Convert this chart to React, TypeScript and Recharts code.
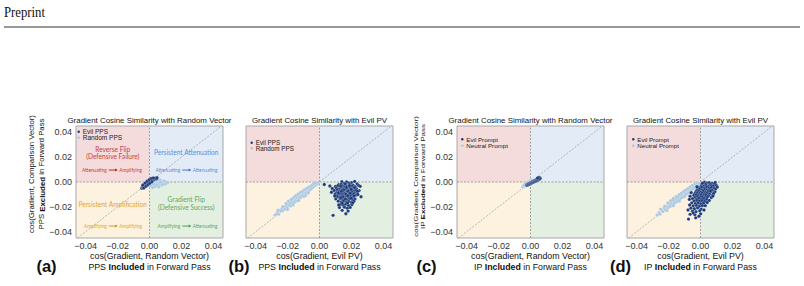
import React from 'react';
import { ScatterChart, Scatter, XAxis, YAxis, ReferenceArea, ReferenceLine, ReferenceDot } from 'recharts';

type Pt = [number, number];

// cosine values, in units of 1e-3
const A_EVIL: Pt[] = [
  [-4.8, -5.0], [-4.5, -3.9], [-4.2, -4.6], [-4.0, -3.2], [-3.8, -4.1], [-3.6, -2.8], [-3.4, -3.6],
  [-3.2, -2.4], [-3.0, -3.1], [-2.8, -1.9], [-2.6, -2.7], [-2.4, -1.5], [-2.2, -2.2], [-2.0, -1.0],
  [-1.8, -1.8], [-1.6, -0.6], [-1.4, -1.3], [-1.2, -0.2], [-1.0, -0.9], [-0.8, 0.3], [-0.6, -0.4],
  [-0.4, 0.7], [-0.2, 0.1], [0.1, 1.1], [0.3, 0.5], [0.6, 1.5], [0.9, 0.9], [1.2, 1.9], [1.5, 1.3],
  [1.9, 2.3], [2.3, 1.7], [2.7, 2.7], [3.2, 2.2], [3.7, 3.1], [4.3, 2.6], [4.7, 3.4],
  [-3.5, -4.8], [-2.2, -3.5], [-1.0, -2.2], [0.2, -1.0], [1.5, 0.2], [-4.2, -2.4], [-2.8, -0.9],
  [-1.5, 0.6], [-0.2, 1.8], [1.1, 2.8], [2.4, 3.3],
];
const A_RANDOM: Pt[] = [
  [-0.8, 0.5], [0.2, -1.5], [0.6, 1.2], [1.0, -0.3], [1.4, -2.8], [1.8, 0.8], [2.2, -1.2], [2.5, 1.8],
  [2.9, -0.5], [3.2, -2.2], [3.6, 0.4], [4.0, -1.6], [4.3, 1.4], [4.7, -0.2], [5.0, -3.2], [5.3, -1.0],
  [5.6, 0.9], [6.0, -2.0], [6.3, 0.2], [6.7, -1.3], [7.0, 1.2], [7.4, -0.6], [7.7, -2.6], [8.1, 0.3],
  [8.5, -1.1], [8.9, 0.9], [9.3, -0.4], [9.8, -1.7], [10.3, 0.2], [10.8, -0.8], [3.4, -3.8], [2.0, -4.5],
  [5.8, -4.0], [4.5, 2.3], [1.2, 2.4], [6.5, 2.0], [11.5, -0.2], [0.5, -3.2],
  [3.0, 0.8], [4.6, -2.4], [6.8, -0.2], [8.3, -1.9], [5.2, 1.6], [2.6, -1.9], [9.6, 0.6],
];
const B_EVIL: Pt[] = [
  [14, 0.3], [17, 0], [20, -0.5], [22, 0.5], [18.5, -1], [15.5, -1.2],
  [3, -2], [12, -2.2], [13.5, -1.8], [16, -2.4], [19, -2], [21, -2.5], [23.5, -1.5], [24.5, -2.8],
  [6.5, -3.2], [10, -3.6], [11.5, -3], [14.5, -3.4], [15.8, -3.8], [17.2, -3.1], [18.3, -3.9], [20.2, -3.3], [22.3, -3.7], [25.5, -3.5],
  [8, -5.2], [10.5, -4.8], [12.5, -5.3], [13.8, -4.6], [15, -5.5], [16.4, -4.9], [17.6, -5.6], [19, -4.7], [20.6, -5.4], [21.8, -4.9], [23.2, -5.6],
  [9.2, -6.8], [11.2, -6.3], [12.8, -7], [14.2, -6.4], [15.5, -7.1], [16.9, -6.2], [18.2, -6.9], [19.6, -6.4], [21, -7.2], [22.6, -6.6], [24.8, -6.9],
  [7.5, -8.2], [10.8, -8.5], [12.2, -7.9], [13.5, -8.6], [14.8, -8], [16.2, -8.7], [17.5, -7.8], [18.9, -8.5], [20.3, -8.1], [21.7, -8.8], [23.5, -8.3],
  [9.8, -9.7], [11.6, -10], [13, -9.4], [14.4, -10.1], [15.8, -9.5], [17.1, -10.2], [18.5, -9.6], [19.9, -10.3], [21.3, -9.8], [22.9, -10.5],
  [11, -11.6], [12.6, -12], [14, -11.3], [15.3, -12.2], [16.6, -11.5], [18, -12.1], [19.4, -11.4], [20.8, -12.3], [26, -11.8],
  [10.2, -13.6], [12.9, -13.3], [14.6, -14], [15.9, -13.4], [17.3, -14.2], [18.8, -13.5], [20.5, -14.1], [22.2, -13.6],
  [11.8, -15.4], [13.7, -16], [15.1, -15.3], [16.8, -16.2], [18.3, -15.6], [19.9, -16.4], [21.5, -15.5],
  [13.2, -18], [14.9, -18.6], [16.4, -17.8], [18.1, -18.8], [20.2, -18.2],
  [12.5, -20.5], [15.6, -20.2], [17.4, -21], [19.2, -20.4],
  [14.2, -22.8], [17.9, -23.4], [8.5, -26.8], [16.5, -25.5],
  [13.2, -3.2], [16.8, -4.4], [19.8, -6], [15.2, -6.2], [17.8, -7.4], [13.8, -7.4], [16.6, -9.8], [19.2, -9],
  [14.7, -11.8], [17.7, -11], [21.6, -11.2], [13.4, -12.6], [16.2, -13.8], [19.6, -13], [17.5, -16.8], [14.2, -17],
  [22, -4.2], [11.8, -8.8], [20.8, -16.8], [23.8, -7.5], [24, -10], [9.5, -11.2], [12, -18.5], [16, -1.5], [18.8, -2.9],
];
const B_RANDOM: Pt[] = [
  [-28, -26.5], [-27, -25.8], [-26.3, -24], [-25.5, -25.9], [-25, -22.8], [-24.2, -23.5], [-23.6, -21.5],
  [-22.8, -22.9], [-22.1, -20.2], [-21.5, -21.6], [-20.8, -19], [-20.2, -20.5], [-19.6, -17.6], [-19, -18.8],
  [-18.5, -16.9], [-18, -19.2], [-17.4, -15.8], [-16.9, -17.1], [-16.3, -14.6], [-15.8, -16.4], [-15.3, -13.5],
  [-14.8, -14.9], [-14.3, -12.6], [-13.8, -15.2], [-13.3, -11.9], [-12.8, -13.4], [-12.3, -10.8], [-11.9, -12.6],
  [-11.4, -9.7], [-11, -11.3], [-10.5, -9], [-10.1, -10.6], [-9.6, -8.1], [-9.2, -9.8], [-8.8, -7.2], [-8.4, -8.9],
  [-8, -6.5], [-7.6, -8.1], [-7.2, -5.6], [-6.8, -7.3], [-6.4, -5], [-6, -6.4], [-5.6, -4.2], [-5.2, -5.5],
  [-4.8, -3.5], [-4.4, -4.6], [-4, -2.9], [-3.6, -3.8], [-3.2, -2.2], [-2.8, -3], [-2.4, -1.6], [-2, -2.2],
  [-1.6, -1], [-1.2, -1.5], [-0.8, -0.5], [-15.5, -11.8], [-12.5, -9.5], [-17, -13.8], [-10, -7.2], [-8.6, -11],
  [-26, -22.5], [-23, -19.8], [-21, -17.2], [-19.5, -15.3], [-17.8, -14], [-16, -12.2], [-14.8, -11],
  [-13.5, -9.8], [-12, -8.3], [-10.8, -7.6], [-9.4, -6.2], [-7.9, -5], [-6.6, -3.8], [-5, -2.6], [-3.8, -1.3],
  [-2.6, -0.4], [-20, -22], [-16.5, -18.5], [-13, -14.8], [-9.8, -11.6], [-7, -8.8],
];
const C_EVIL: Pt[] = [
  [-2.3, -2.6], [-2, -2], [-1.7, -2.4], [-1.4, -1.5], [-1.1, -2], [-0.8, -1.1], [-0.5, -1.6], [-0.2, -0.7],
  [0.1, -1.2], [0.4, -0.3], [0.7, -0.9], [1, 0.1], [1.3, -0.5], [1.6, 0.5], [1.9, -0.1], [2.2, 0.8],
  [2.5, 0.3], [2.8, 1.2], [3.1, 0.6], [3.4, 1.6], [3.7, 1], [4, 2], [4.3, 1.4], [4.6, 2.5], [4.9, 1.9],
  [5.2, 2.9], [5.5, 2.3], [5.8, 3.4], [6, 2.8], [5, 3.6], [4.4, 3.1],
];
const C_NEUTRAL: Pt[] = [
  [-5, -3.8], [-4.6, -3.2], [-4.2, -3.9], [-3.8, -2.6], [-3.4, -3.3], [-3, -2], [-2.6, -2.7], [-2.2, -1.4],
  [-1.8, -2.1], [-1.4, -0.8], [-1, -1.5], [-0.6, -0.3], [-0.2, -0.9], [0.2, 0.3], [0.6, -0.3], [1, 0.8],
  [1.4, 0.4], [1.8, 1.4], [-2, -0.9], [-1.2, 0.1], [0.4, 1.2], [-3.6, -1.6],
  [-4, -2], [-2.8, -1], [-1.6, 0.2], [-0.4, 0.9], [0.8, 1.8],
];
const D_EVIL: Pt[] = [
  [2.5, -0.2], [4, -0.8], [5.5, -0.5], [7.2, -1.2], [3.2, -1.8], [8.5, -1.6], [6, -2],
  [0.5, -3], [2, -3.3], [3.6, -2.8], [5, -3.5], [6.7, -3], [8, -3.4], [9.8, -2.6],
  [-1, -4.6], [0.8, -4.3], [2.4, -4.9], [3.9, -4.2], [5.3, -4.8], [6.8, -4.4], [8.6, -5],
  [-2, -6.2], [-0.4, -5.8], [1.2, -6.4], [2.7, -5.9], [4.2, -6.5], [5.7, -6], [7.3, -6.6],
  [-2.8, -7.6], [-1.2, -7.3], [0.3, -7.9], [1.8, -7.4], [3.3, -8], [4.8, -7.5], [6.3, -8.1], [9, -7.8],
  [-3.5, -9.2], [-2, -8.8], [-0.5, -9.4], [1, -8.9], [2.5, -9.5], [4, -9], [5.6, -9.6],
  [-4.2, -10.6], [-2.6, -10.3], [-1.1, -10.9], [0.4, -10.4], [1.9, -11], [3.4, -10.5], [5, -11.1], [7.5, -10.8],
  [-3.4, -12.3], [-1.8, -11.8], [-0.3, -12.4], [1.2, -11.9], [2.8, -12.5], [4.3, -12],
  [-5, -13.4], [-2.5, -13.8], [-1, -13.3], [0.6, -13.9], [2.1, -13.4], [3.8, -14],
  [-4, -15.2], [-2.3, -14.8], [-0.7, -15.4], [1, -15], [2.6, -15.6],
  [-5.5, -16.8], [-3.2, -17.3], [-1.5, -16.9], [0.2, -17.5], [1.9, -17],
  [-4.6, -19.2], [-2.6, -18.8], [-0.8, -19.5], [1.2, -19],
  [-6, -21], [-3.8, -21.5], [-1.8, -20.8], [0.4, -21.8],
  [-5, -23.5], [-2.8, -23.9], [-0.5, -23.2], [-6.5, -26], [-3.5, -26.4], [0.1, -25.6], [-7.5, -29.8], [-3, -28.8],
  [-6.5, -11.5], [-7, -14], [-6.8, -18.5], [9.5, -5.5], [10.5, -4], [8.2, -9.2], [6.8, -12.5], [5.5, -14.8],
  [4.2, -16.5], [3, -19], [-7.8, -22.5], [-1, -27.5], [6.2, -7.2], [-5.8, -8.5], [2.2, -22.5], [-4.5, -25],
  [9.2, -0.4], [1.2, -1], [-2.2, -3.8], [7.8, -11.3],
];
const D_NEUTRAL: Pt[] = [
  [-27.2, -26.6], [-26, -24.5], [-25.3, -25.9], [-24.4, -22.6], [-23.5, -23.8], [-22.7, -21], [-21.9, -22.4],
  [-21.2, -19.5], [-20.4, -20.9], [-19.7, -18.1], [-19, -19.7], [-18.3, -16.8], [-17.6, -18.2], [-16.9, -15.6],
  [-16.3, -17], [-15.6, -14.2], [-15, -15.9], [-14.4, -13.1], [-13.8, -14.6], [-13.2, -12], [-12.6, -13.5],
  [-12, -10.8], [-11.4, -12.4], [-10.8, -9.7], [-10.2, -11.2], [-9.6, -8.6], [-9, -10.1], [-8.5, -7.5],
  [-7.9, -9], [-7.4, -6.6], [-6.8, -7.9], [-6.3, -5.5], [-5.7, -6.8], [-5.2, -4.6], [-4.6, -5.7], [-4.1, -3.5],
  [-3.6, -4.6], [-3.1, -2.6], [-2.6, -3.4], [-2.1, -1.6], [-1.6, -2.3], [-1.1, -0.8], [-0.6, -1.2],
  [-14, -11.8], [-11, -8.6], [-17.5, -14.6], [-8, -6], [-20, -17.2], [-6, -4.2],
  [-25, -21.8], [-22.5, -19.4], [-20.5, -16.8], [-18.8, -15], [-17, -13.2], [-15.3, -11.7], [-13.5, -10.2],
  [-12, -9], [-10.5, -7.6], [-9.2, -6.4], [-7.7, -5.1], [-6.4, -3.9], [-5, -2.7], [-3.6, -1.5], [-2.3, -0.6],
  [-21, -23], [-17, -19], [-13.2, -15.4], [-9.9, -11.8], [-6.8, -8.6],
];

const TICKS = [-0.04, -0.02, 0, 0.02, 0.04];
const TICK_LABELS = ['\u22120.04', '\u22120.02', '0.00', '0.02', '0.04'];
const fmtTick = (v: number) => TICK_LABELS[TICKS.indexOf(v)] ?? '';

const X_DOMAIN: [number, number] = [-0.046, 0.046];
const Y_DOMAIN: [number, number] = [-0.045, 0.045];

const NAVY = '#1c3a7a';
const LIGHT = '#a9c6df';
const Q_PINK = '#f4dcdc';
const Q_BLUE = '#e3ebf6';
const Q_ORANGE = '#fdf1df';
const Q_GREEN = '#e2efe1';

// quadrant notes of panel (a), placed in data coordinates
const NOTES = [
  { x: -0.023, y: 0.0268, lines: ['Reverse Flip', '(Defensive Failure)'], ay: 0.0096, from: 'Attenuating', to: 'Amplifying', color: '#c84040', arrow: '#a31c1c' },
  { x: 0.023, y: 0.0244, lines: ['Persistent Attenuation'], ay: 0.0096, from: 'Attenuating', to: 'Attenuating', color: '#5b8fd8', arrow: '#2d6ad0' },
  { x: -0.023, y: -0.0174, lines: ['Persistent Amplification'], ay: -0.0354, from: 'Amplifying', to: 'Amplifying', color: '#e0a634', arrow: '#cc9210' },
  { x: 0.023, y: -0.0139, lines: ['Gradient Flip', '(Defensive Success)'], ay: -0.0354, from: 'Amplifying', to: 'Attenuating', color: '#62a962', arrow: '#3c983c' },
];

const PANELS = [
  { id: 'a', left: 76, title: 'Gradient Cosine Similarity with Random Vector', xLabel: 'cos(Gradient, Random Vector)', who: 'PPS', names: ['Evil PPS', 'Random PPS'], evil: A_EVIL, other: A_RANDOM, showY: true, notes: true, lx: 78.7, ly: 131.7, lgap: 6, lfs: 6.5, letterX: 46.5 },
  { id: 'b', left: 246, title: 'Gradient Cosine Similarity with Evil PV', xLabel: 'cos(Gradient, Evil PV)', who: 'PPS', names: ['Evil PPS', 'Random PPS'], evil: B_EVIL, other: B_RANDOM, showY: false, notes: false, lx: 251.7, ly: 142.7, lgap: 5.6, lfs: 6.3, letterX: 239 },
  { id: 'c', left: 457, title: 'Gradient Cosine Similarity with Random Vector', xLabel: 'cos(Gradient, Random Vector)', who: 'IP', names: ['Evil Prompt', 'Neutral Prompt'], evil: C_EVIL, other: C_NEUTRAL, showY: true, notes: false, lx: 462.3, ly: 139.3, lgap: 6.4, lfs: 6.2, letterX: 426.5 },
  { id: 'd', left: 627, title: 'Gradient Cosine Similarity with Evil PV', xLabel: 'cos(Gradient, Evil PV)', who: 'IP', names: ['Evil Prompt', 'Neutral Prompt'], evil: D_EVIL, other: D_NEUTRAL, showY: false, notes: false, lx: 633.3, ly: 139.3, lgap: 6.4, lfs: 6.2, letterX: 620.5 },
];

const toPts = (arr: Pt[]) => arr.map(([x, y]) => ({ x: x / 1000, y: y / 1000 }));

const PLOT_TOP = 126;
const PW = 147;
const PH = 112;
const YW = 40;
const XH = 20;
const PAD = 4;
const SANS = '"Liberation Sans", Arial, sans-serif';
const NOTE_FONT = 'Lato, "Open Sans", sans-serif';

const dot = (color: string, r: number) => (props: any) => (
  <circle cx={props.cx} cy={props.cy} r={r} fill={color} stroke="#fff" strokeWidth={0.2} />
);

const NoteHeading = (lines: string[], color: string) => (props: any) => (
  <text x={props.cx} y={props.cy} textAnchor="middle" dominantBaseline="central" fontSize={6.6} fill={color} fontFamily={NOTE_FONT}>
    {lines.map((l, i) => (
      <tspan key={i} x={props.cx} dy={i === 0 ? 0 : 7.4}>{l}</tspan>
    ))}
  </text>
);

const NoteArrow = (from: string, to: string, color: string, arrow: string) => (props: any) => {
  const { cx, cy } = props;
  return (
    <g fontFamily={NOTE_FONT} fontSize={4.8} fill={color}>
      <text x={cx - 6} y={cy} textAnchor="end" dominantBaseline="central">{from}</text>
      <line x1={cx - 4} x2={cx + 3} y1={cy} y2={cy} stroke={arrow} strokeWidth={0.9} />
      <polygon points={`${cx + 5},${cy} ${cx + 2.5},${cy - 1.5} ${cx + 2.5},${cy + 1.5}`} fill={arrow} />
      <text x={cx + 6.5} y={cy} textAnchor="start" dominantBaseline="central">{to}</text>
    </g>
  );
};

function Panel({ p }: { p: (typeof PANELS)[number] }) {
  const tickStyle = { fontSize: 9, fill: '#333', fontFamily: SANS };
  return (
    <div style={{ position: 'absolute', left: p.left - YW, top: PLOT_TOP - PAD }}>
      <ScatterChart width={YW + PW + PAD} height={PAD + PH + XH} margin={{ top: PAD, right: PAD, bottom: 0, left: 0 }}>
        <XAxis type="number" dataKey="x" domain={X_DOMAIN} ticks={TICKS} tickFormatter={fmtTick} height={XH}
          axisLine={false} tickLine={false} tickSize={0} tickMargin={4.5} tick={tickStyle} allowDataOverflow interval={0} />
        <YAxis type="number" dataKey="y" domain={Y_DOMAIN} ticks={TICKS} tickFormatter={fmtTick} width={YW}
          axisLine={false} tickLine={false} tickSize={0} tickMargin={4} tick={p.showY ? tickStyle : false} allowDataOverflow interval={0} />
        <ReferenceArea x1={X_DOMAIN[0]} x2={0} y1={0} y2={Y_DOMAIN[1]} fill={Q_PINK} fillOpacity={1} stroke="none" />
        <ReferenceArea x1={0} x2={X_DOMAIN[1]} y1={0} y2={Y_DOMAIN[1]} fill={Q_BLUE} fillOpacity={1} stroke="none" />
        <ReferenceArea x1={X_DOMAIN[0]} x2={0} y1={Y_DOMAIN[0]} y2={0} fill={Q_ORANGE} fillOpacity={1} stroke="none" />
        <ReferenceArea x1={0} x2={X_DOMAIN[1]} y1={Y_DOMAIN[0]} y2={0} fill={Q_GREEN} fillOpacity={1} stroke="none" />
        <ReferenceLine x={0} stroke="#8a8a8a" strokeWidth={0.8} strokeDasharray="2 1.5" />
        <ReferenceLine y={0} stroke="#8a8a8a" strokeWidth={0.8} strokeDasharray="2 1.5" />
        <ReferenceLine segment={[{ x: -0.045, y: -0.045 }, { x: 0.045, y: 0.045 }]} stroke="#999" strokeWidth={0.7} strokeDasharray="2 1.5" />
        <ReferenceArea x1={X_DOMAIN[0]} x2={X_DOMAIN[1]} y1={Y_DOMAIN[0]} y2={Y_DOMAIN[1]} fill="none" stroke="#a8a8a8" strokeWidth={1} />
        {p.notes && NOTES.map((n, i) => (
          <ReferenceDot key={'h' + i} x={n.x} y={n.y} r={0} shape={NoteHeading(n.lines, n.color)} />
        ))}
        {p.notes && NOTES.map((n, i) => (
          <ReferenceDot key={'a' + i} x={n.x} y={n.ay} r={0} shape={NoteArrow(n.from, n.to, n.color, n.arrow)} />
        ))}
        <Scatter data={toPts(p.other)} shape={dot(LIGHT, 1.6)} isAnimationActive={false} />
        <Scatter data={toPts(p.evil)} shape={dot(NAVY, 1.7)} isAnimationActive={false} />
      </ScatterChart>
    </div>
  );
}

export default function App() {
  return (
    <div style={{ position: 'fixed', left: 0, top: 0, width: 804, height: 286, background: '#fff', overflow: 'hidden', fontFamily: SANS }}>
      {PANELS.map((p) => <Panel key={p.id} p={p} />)}
      <svg width={804} height={286} style={{ position: 'absolute', left: 0, top: 0, pointerEvents: 'none' }} fontFamily={SANS}>
        <text x={4} y={16.7} fontFamily='"Liberation Serif", "Times New Roman", serif' fontSize={15} textLength={41} lengthAdjust="spacingAndGlyphs" fill="#111">Preprint</text>
        <line x1={4} x2={800} y1={27} y2={27} stroke="#333" strokeWidth={1} />
        {PANELS.map((p) => {
          const cx = p.left + PW / 2;
          return (
            <g key={p.id}>
              <text x={cx} y={120.5} textAnchor="middle" dominantBaseline="central" fontSize={7.9} fill="#111">{p.title}</text>
              <text x={cx} y={256} textAnchor="middle" dominantBaseline="central" fontSize={8.8} fill="#111">{p.xLabel}</text>
              <text x={cx} y={266.7} textAnchor="middle" dominantBaseline="central" fontSize={8.8} fill="#111">
                {p.who} <tspan fontWeight="bold">Included</tspan> in Forward Pass
              </text>
              <text x={p.letterX} y={265.7} textAnchor="middle" dominantBaseline="central" fontSize={16.5} fontWeight="bold" fill="#111">({p.id})</text>
              {p.names.map((n, i) => (
                <g key={n}>
                  <circle cx={p.lx} cy={p.ly + i * p.lgap} r={1.2} fill={i === 0 ? NAVY : LIGHT} />
                  <text x={p.lx + 4} y={p.ly + i * p.lgap} dominantBaseline="central" fontSize={p.lfs} fill="#222">{n}</text>
                </g>
              ))}
            </g>
          );
        })}
        <text transform="translate(31.5,174) rotate(-90)" textAnchor="middle" dominantBaseline="central" fontSize={7.8} fill="#111">cos(Gradient, Comparison Vector)</text>
        <text transform="translate(41.5,174) rotate(-90)" textAnchor="middle" dominantBaseline="central" fontSize={7.8} fill="#111">
          PPS <tspan fontWeight="bold">Excluded</tspan> in Forward Pass
        </text>
        <text transform="translate(416,176.5) scale(0.7,1) rotate(-90)" textAnchor="middle" dominantBaseline="central" fontSize={8} fill="#111">cos(Gradient, Comparison Vector)</text>
        <text transform="translate(423,176.5) scale(0.7,1) rotate(-90)" textAnchor="middle" dominantBaseline="central" fontSize={8} fill="#111">
          IP <tspan fontWeight="bold">Excluded</tspan> in Forward Pass
        </text>
      </svg>
    </div>
  );
}
